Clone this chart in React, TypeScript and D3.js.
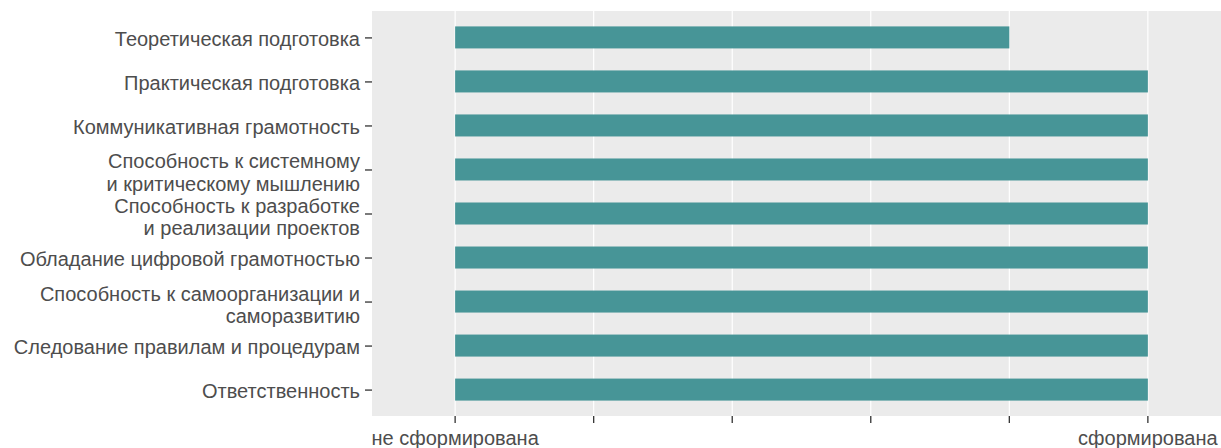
import React from "react";
import * as d3 from "d3";

const categories: string[][] = [
  ["Теоретическая подготовка"],
  ["Практическая подготовка"],
  ["Коммуникативная грамотность"],
  ["Способность к системному", "и критическому мышлению"],
  ["Способность к разработке", "и реализации проектов"],
  ["Обладание цифровой грамотностью"],
  ["Способность к самоорганизации и", "саморазвитию"],
  ["Следование правилам и процедурам"],
  ["Ответственность"],
];
const values: number[] = [4, 5, 5, 5, 5, 5, 5, 5, 5];
const xTicks: number[] = [0, 1, 2, 3, 4, 5];
const xTickLabels: string[] = ["не сформирована", "", "", "", "", "сформирована"];

const W = 1221;
const H = 448;
const panel = { left: 372, right: 1231, top: 11, bottom: 416 };
const FONT = "'Liberation Sans', Arial, sans-serif";
const TEXT = "#4D4D4D";
const FS = 20;
const LINE = 22.6;

export default function App() {
  const x = d3.scaleLinear().domain([-0.6, 5.6]).range([panel.left, panel.right]);
  const idx = categories.map((_, i) => i);
  const y = d3
    .scalePoint<number>()
    .domain(idx)
    .range([panel.top, panel.bottom])
    .padding(0.6);
  const step = y.step();
  const barH = step * 0.5;

  return (
    <svg width={W} height={H} style={{ position: "absolute", left: 0, top: 0, display: "block" }}>
      <rect x={panel.left} y={panel.top} width={panel.right - panel.left} height={panel.bottom - panel.top} fill="#EBEBEB" />
      {xTicks.map((t) => (
        <line key={"g" + t} x1={x(t)} x2={x(t)} y1={panel.top} y2={panel.bottom} stroke="#FFFFFF" strokeWidth={1.2} />
      ))}
      {idx.map((i) => (
        <rect
          key={"b" + i}
          x={x(0)}
          y={(y(i) as number) - barH / 2}
          width={x(values[i]) - x(0)}
          height={barH}
          fill="#479597"
        />
      ))}
      {idx.map((i) => {
        const cy = y(i) as number;
        const lines = categories[i];
        return (
          <g key={"yl" + i}>
            <line x1={panel.left - 7} x2={panel.left} y1={cy + 0.5} y2={cy + 0.5} stroke="#333333" strokeWidth={1.3} />
            {lines.map((l, k) => (
              <text
                key={k}
                x={360}
                y={lines.length === 1 ? cy + 8.5 : cy - 1 + k * LINE}
                textAnchor="end"
                fontFamily={FONT}
                fontSize={FS}
                fill={TEXT}
              >
                {l}
              </text>
            ))}
          </g>
        );
      })}
      {xTicks.map((t, k) => (
        <g key={"xt" + t}>
          <line x1={x(t)} x2={x(t)} y1={panel.bottom} y2={panel.bottom + 7} stroke="#333333" strokeWidth={1.3} />
          {xTickLabels[k] ? (
            <text x={x(t)} y={445} textAnchor="middle" fontFamily={FONT} fontSize={FS} fill={TEXT}>
              {xTickLabels[k]}
            </text>
          ) : null}
        </g>
      ))}
    </svg>
  );
}
